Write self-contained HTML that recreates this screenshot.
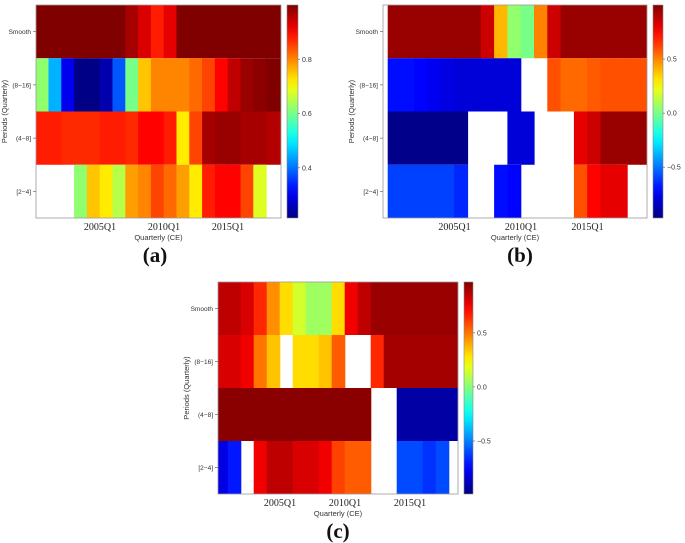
<!DOCTYPE html>
<html><head><meta charset="utf-8"><style>
body{margin:0;background:#fff;width:685px;height:543px;overflow:hidden}
svg{display:block}
</style></head><body>
<svg id="c" width="685" height="543"></svg>
<script>
// Panel (a) row values per year 2000..2019 (null = insignificant/white)
const yearsA=[2000,2001,2002,2003,2004,2005,2006,2007,2008,2009,2010,2011,2012,2013,2014,2015,2016,2017,2018,2019];
const aSmooth=[1,1,1,1,1,1,1,0.97,0.93,0.88,0.92,1,1,1,1,1,1,1,1,1];
const a816=[0.62,0.45,0.3,0.22,0.22,0.25,0.38,0.6,0.75,0.8,0.8,0.8,0.82,0.85,0.9,0.95,0.98,0.99,1,1];
const a48=[0.88,0.88,0.87,0.87,0.87,0.88,0.88,0.87,0.9,0.9,0.88,0.72,0.85,0.97,0.98,0.98,0.97,0.97,0.96,0.95];
const a24=[null,null,null,0.62,0.75,0.72,0.65,0.78,0.8,0.85,0.82,0.78,0.72,0.88,0.9,0.9,0.85,0.68,null,null];
// Panel (b)
const bSmooth=[0.95,0.95,0.95,0.95,0.95,0.95,0.95,0.85,0.4,0.05,0,0.5,0.85,0.95,0.95,0.95,0.95,0.95,0.95,0.95];
const b816=[-0.7,-0.7,-0.72,-0.75,-0.78,-0.8,-0.8,-0.8,-0.8,-0.8,null,null,0.6,0.55,0.55,0.58,0.6,0.6,0.6,0.6];
const b48=[-0.95,-0.95,-0.95,-0.95,-0.95,-0.95,null,null,null,-0.8,-0.8,null,null,null,0.8,0.85,0.95,0.95,0.95,0.95];
const b24=[-0.6,-0.6,-0.6,-0.6,-0.6,-0.65,null,null,-0.7,-0.72,null,null,null,null,0.6,0.75,0.8,0.8,null,null];
// Panel (c)
const cSmooth=[0.85,0.85,0.8,0.65,0.45,0.3,0.15,0.05,0.05,0.3,0.75,0.85,0.92,0.92,0.92,0.92,0.92,0.92,0.92,0.92];
const c816=[0.8,0.8,0.75,0.5,0.35,null,0.3,0.3,0.35,0.55,null,null,0.65,0.9,0.9,0.9,0.9,0.9,0.9,0.9];
const c48=[0.95,0.95,0.95,0.95,0.95,0.95,0.95,0.95,0.95,0.95,0.95,0.95,null,null,-0.92,-0.92,-0.92,-0.92,-0.92,-0.92];
const c24=[-0.8,-0.7,null,0.75,0.85,0.85,0.8,0.8,0.75,0.6,0.55,0.55,null,null,-0.6,-0.6,-0.65,-0.6,null,null];
const rowLabels=["Smooth","(8\u221216]","(4\u22128]","[2\u22124]"];
const xTickYears=[2005,2010,2015];
const xTickLabels=["2005Q1","2010Q1","2015Q1"];
const cbTicksA=[0.8,0.6,0.4];
const cbTicksBC=[0.5,0.0,-0.5];

const NS="http://www.w3.org/2000/svg";
const svg=document.getElementById('c');
function mk(tag,attrs,parent){const e=document.createElementNS(NS,tag);for(const k in attrs)e.setAttribute(k,attrs[k]);(parent||svg).appendChild(e);return e;}
function jet(t){t=Math.max(0,Math.min(1,t));
 const r=Math.max(0,Math.min(1,1.5-Math.abs(4*t-3))),g=Math.max(0,Math.min(1,1.5-Math.abs(4*t-2))),b=Math.max(0,Math.min(1,1.5-Math.abs(4*t-1)));
 return `rgb(${Math.round(r*255)},${Math.round(g*255)},${Math.round(b*255)})`;}

function panel(cfg){
 const g=mk('g',{});
 
 
 const W=cfg.x1-cfg.x0,H=cfg.y1-cfg.y0,rh=H/4;
 const xs=y=>cfg.x2000+(y-2000)*cfg.ppy;
 const cv=v=>(v-cfg.vmin)/(cfg.vmax-cfg.vmin);
 const clipId='clip'+cfg.id;
 const cp=mk('clipPath',{id:clipId},g);mk('rect',{x:cfg.x0,y:cfg.y0,width:W,height:H},cp);
 const cells=mk('g',{'clip-path':`url(#${clipId})`},g);
 cfg.rows.forEach((row,ri)=>{
  row.forEach((v,i)=>{
   if(v===null)return;
   const x=xs(yearsA[i]),x2=xs(yearsA[i]+1);
   const r=mk('rect',{x:x-0.3,y:cfg.y0+ri*rh,width:x2-x+0.6,height:rh,fill:jet(cv(v))},cells);
   
   
  });
 });
 mk('rect',{x:cfg.x0,y:cfg.y0,width:W,height:H,fill:'none',stroke:'#999','stroke-width':0.8},g);
 rowLabels.forEach((l,ri)=>{
  const yy=cfg.y0+(ri+0.5)*rh;
  mk('line',{x1:cfg.x0-3,x2:cfg.x0,y1:yy,y2:yy,stroke:'#555','stroke-width':0.6},g);
  const t=mk('text',{x:cfg.x0-5,y:yy+2.5,'text-anchor':'end','font-size':6.5,'font-family':'Liberation Sans, sans-serif',fill:'#333'},g);t.textContent=l;
  
 });
 xTickYears.forEach((yr,i)=>{
  const t=mk('text',{x:xs(yr),y:cfg.y1+12,'text-anchor':'middle','font-size':10,'font-family':'Liberation Serif, serif',fill:'#222'},g);t.textContent=xTickLabels[i];
  
 });
 const xt=mk('text',{x:(cfg.x0+cfg.x1)/2,y:cfg.y1+22,'text-anchor':'middle','font-size':7.5,'font-family':'Liberation Sans, sans-serif',fill:'#333'},g);xt.textContent='Quarterly (CE)';
 
 const yx=cfg.x0-29,yy=(cfg.y0+cfg.y1)/2;
 const yt=mk('text',{x:yx,y:yy,transform:`rotate(-90 ${yx} ${yy})`,'text-anchor':'middle','font-size':7.5,'font-family':'Liberation Sans, sans-serif',fill:'#333'},g);yt.textContent='Periods (Quarterly)';
 
 const gid='grad'+cfg.id;
 const lg=mk('linearGradient',{id:gid,x1:0,y1:1,x2:0,y2:0},g);
 for(let k=0;k<=20;k++)mk('stop',{offset:k/20,'stop-color':jet(k/20)},lg);
 const cb=mk('rect',{x:cfg.cbx,y:cfg.y0,width:cfg.cbw,height:H,fill:`url(#${gid})`,stroke:'#888','stroke-width':0.6},g);
 
 cfg.cbTicks.forEach(v=>{
  const y=cfg.y1-(v-cfg.vmin)/(cfg.vmax-cfg.vmin)*H;
  mk('line',{x1:cfg.cbx+cfg.cbw,x2:cfg.cbx+cfg.cbw+2,y1:y,y2:y,stroke:'#555','stroke-width':0.6},g);
  const t=mk('text',{x:cfg.cbx+cfg.cbw+4,y:y+2.5,'font-size':7,'font-family':'Liberation Sans, sans-serif',fill:'#333'},g);
  t.textContent=(v<0?'\u2212':'')+Math.abs(v).toFixed(1);
  
 });
 const pl=mk('text',{x:cfg.lx,y:cfg.ly,'text-anchor':'middle','font-size':21,'font-weight':'bold','font-family':'Liberation Serif, serif',fill:'#111'},g);
 pl.textContent='('+cfg.id+')';
 
}
panel({id:'a',x0:36,x1:281,y0:5,y1:218,x2000:36,ppy:12.8,vmin:0.215,vmax:1.0,rows:[aSmooth,a816,a48,a24],cbx:287,cbw:11,cbTicks:cbTicksA,lx:155,ly:262});
panel({id:'b',x0:383,x1:647,y0:5,y1:218,x2000:388,ppy:13.3,vmin:-0.97,vmax:1.0,rows:[bSmooth,b816,b48,b24],cbx:653,cbw:10,cbTicks:cbTicksBC,lx:520,ly:262});
panel({id:'c',x0:218,x1:458,y0:282,y1:494,x2000:215,ppy:13,vmin:-0.99,vmax:0.97,rows:[cSmooth,c816,c48,c24],cbx:464,cbw:9,cbTicks:cbTicksBC,lx:338,ly:538});
</script>
</body></html>
